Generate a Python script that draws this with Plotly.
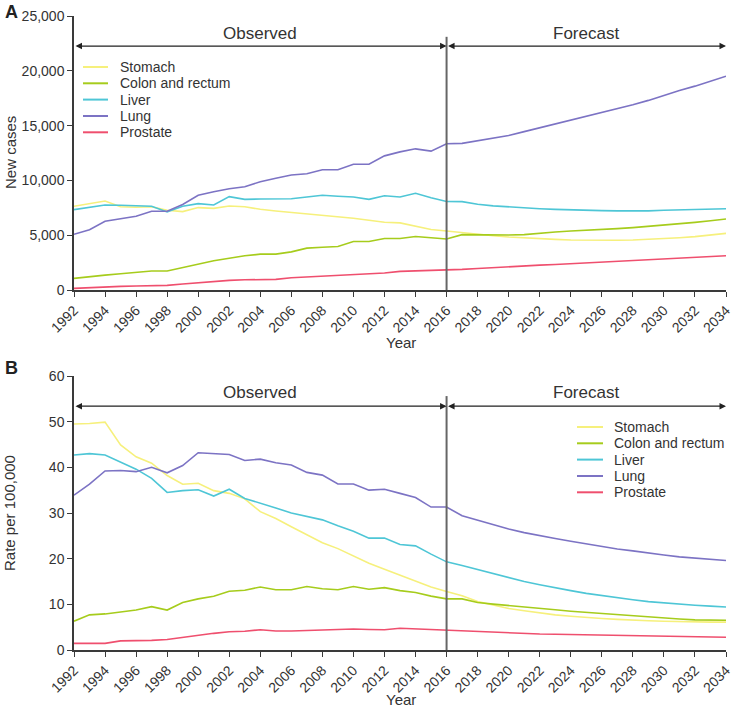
import plotly.graph_objects as go

years = list(range(1992, 2035))
names = ["Stomach", "Colon and rectum", "Liver", "Lung", "Prostate"]
colors = ["#f6f07c", "#a6cc1c", "#4ec6d6", "#7c73c4", "#ef4f6e"]

# Panel A: new cases
cases_stomach = [7640, 7880, 8120, 7600, 7550, 7600, 7270, 7150, 7520, 7450, 7670, 7600, 7360, 7210, 7090,
                 6940, 6790, 6730, 6550, 6360, 6180, 6120, 5820, 5520, 5380,
                 5220, 5080, 4950, 4840, 4750, 4680, 4620, 4560, 4540, 4530, 4540, 4560, 4610, 4680, 4770,
                 4870, 5000, 5170]
cases_colon = [1060, 1240, 1360, 1480, 1600, 1730, 1730, 2060, 2390, 2670, 2900, 3120, 3270, 3270, 3480,
               3820, 3900, 3970, 4420, 4420, 4700, 4700, 4880, 4760, 4660,
               5050, 5020, 5020, 5020, 5050, 5200, 5290, 5380, 5440, 5500, 5600, 5690, 5800, 5900, 6030,
               6170, 6320, 6480]
cases_liver = [7330, 7550, 7760, 7730, 7670, 7640, 7120, 7640, 7880, 7760, 8520, 8270, 8300, 8300, 8330,
               8480, 8640, 8550, 8480, 8270, 8600, 8480, 8820, 8420, 8080,
               8060, 7820, 7680, 7570, 7490, 7420, 7360, 7300, 7270, 7240, 7220, 7200, 7220, 7270, 7320,
               7360, 7390, 7420]
cases_lung = [5090, 5500, 6270, 6500, 6730, 7180, 7180, 7800, 8640, 8970, 9240, 9420, 9880, 10200, 10500,
              10600, 10970, 10970, 11480, 11480, 12240, 12600, 12880, 12670, 13350,
              13380, 13600, 13850, 14100, 14450, 14800, 15100, 15450, 15800, 16150, 16500, 16900, 17300,
              17760, 18200, 18600, 19050, 19500]
cases_prostate = [150, 220, 300, 330, 360, 390, 420, 550, 670, 780, 880, 930, 970, 970, 1120,
                  1200, 1270, 1330, 1390, 1470, 1550, 1700, 1730, 1760, 1790,
                  1880, 1960, 2050, 2130, 2200, 2270, 2330, 2400, 2470, 2540, 2610, 2680, 2750, 2820, 2880,
                  2950, 3040, 3130]

# Panel B: rate per 100,000
rate_stomach = [49.5, 49.6, 49.9, 44.9, 42.3, 40.9, 38.2, 36.3, 36.5, 34.9, 34.3, 33.1, 30.3, 28.8, 27.0,
                25.3, 23.5, 22.2, 20.6, 19.0, 17.7, 16.4, 15.1, 13.8, 12.8,
                11.9, 10.6, 9.8, 9.1, 8.6, 8.1, 7.7, 7.4, 7.1, 6.9, 6.7, 6.5, 6.4, 6.3, 6.2, 6.1, 6.1, 6.1]
rate_colon = [6.3, 7.7, 7.9, 8.25, 8.75, 9.5, 8.75, 10.4, 11.2, 11.75, 12.85, 13.1, 13.8, 13.2, 13.2,
              13.9, 13.4, 13.2, 13.9, 13.3, 13.65, 13.0, 12.6, 11.8, 11.2,
              11.2, 10.4, 10.05, 9.7, 9.4, 9.1, 8.8, 8.5, 8.25, 8.0, 7.7, 7.4, 7.2, 7.0, 6.8, 6.6, 6.55, 6.5]
rate_liver = [42.7, 43.0, 42.7, 41.2, 39.6, 37.6, 34.5, 34.9, 35.1, 33.7, 35.2, 33.2, 32.2, 31.1, 30.0,
              29.3, 28.5, 27.2, 26.0, 24.5, 24.5, 23.1, 22.8, 21.0, 19.3,
              18.5, 17.6, 16.7, 15.8, 15.0, 14.3, 13.6, 13.0, 12.4, 11.9, 11.4, 11.0, 10.6, 10.3, 10.0,
              9.8, 9.6, 9.4]
rate_lung = [33.9, 36.3, 39.2, 39.3, 39.05, 40.0, 38.8, 40.4, 43.2, 43.0, 42.8, 41.5, 41.8, 41.0, 40.5,
             38.9, 38.3, 36.35, 36.35, 35.0, 35.2, 34.3, 33.4, 31.3, 31.3,
             29.4, 28.4, 27.4, 26.5, 25.7, 25.0, 24.4, 23.8, 23.2, 22.6, 22.1, 21.7, 21.2, 20.8, 20.4,
             20.1, 19.8, 19.6]
rate_prostate = [1.46, 1.46, 1.46, 2.0, 2.0, 2.1, 2.3, 2.8, 3.2, 3.65, 4.0, 4.1, 4.45, 4.15, 4.15,
                 4.3, 4.4, 4.6, 4.6, 4.5, 4.45, 4.75, 4.6, 4.4, 4.25,
                 4.1, 4.0, 3.85, 3.7, 3.6, 3.5, 3.45, 3.4, 3.3, 3.25, 3.2, 3.1, 3.05, 3.0, 2.95, 2.9, 2.85, 2.8]

cases = [cases_stomach, cases_colon, cases_liver, cases_lung, cases_prostate]
rates = [rate_stomach, rate_colon, rate_liver, rate_lung, rate_prostate]

split_year = 2016
cases_ticks = [0, 5000, 10000, 15000, 20000, 25000]
rate_ticks = [0, 10, 20, 30, 40, 50, 60]

FONT = "Arial, Liberation Sans, sans-serif"
AX = "#3a3a3a"
TXT = "#333333"

# figure geometry (pixels)
W, H = 733, 710
ML, MR, MT, MB = 74, 7, 16, 60
PW, PH = W - ML - MR, H - MT - MB


def px(x):
    return (x - ML) / PW


def py(y):
    return 1 - (y - MT) / PH


fig = go.Figure()
for n, c, v in zip(names, colors, cases):
    fig.add_trace(go.Scatter(x=years, y=v, name=n, mode="lines", line=dict(color=c, width=1.6),
                             xaxis="x", yaxis="y", showlegend=False))
for n, c, v in zip(names, colors, rates):
    fig.add_trace(go.Scatter(x=years, y=v, name=n, mode="lines", line=dict(color=c, width=1.6),
                             xaxis="x2", yaxis="y2", showlegend=False))

xcommon = dict(range=[1992, 2034], tickmode="array", tickvals=list(range(1992, 2035, 2)),
               tickangle=-45, ticks="outside", ticklen=5, tickcolor=AX, showline=True,
               linecolor=AX, linewidth=1.5, showgrid=False, zeroline=False, automargin=False,
               ticklabeloverflow="allow", tickfont=dict(size=14, color=TXT))
ycommon = dict(ticks="outside", ticklen=5, tickcolor=AX, showline=True, linecolor=AX, linewidth=1.5,
               showgrid=False, zeroline=False, automargin=False, ticklabeloverflow="allow",
               tickfont=dict(size=14, color=TXT))

top_dom = [py(290), 1]
bot_dom = [0, py(376)]

fig.update_layout(
    width=W, height=H,
    margin=dict(l=ML, r=MR, t=MT, b=MB, autoexpand=False),
    paper_bgcolor="white", plot_bgcolor="white",
    font=dict(family=FONT, color=TXT),
    xaxis=dict(domain=[0, 1], anchor="y", **xcommon),
    yaxis=dict(domain=top_dom, anchor="x", range=[0, 25000], tickvals=cases_ticks,
               tickformat=",d", **ycommon),
    xaxis2=dict(domain=[0, 1], anchor="y2", **xcommon),
    yaxis2=dict(domain=bot_dom, anchor="x2", range=[0, 60], tickvals=rate_ticks, **ycommon),
    showlegend=False,
)

shapes = []
annotations = []
for yref, top, arrow_y, text_y in [("y", 23100, 22260, 23400), ("y2", 55.6, 53.4, 56.3)]:
    xref = "x" if yref == "y" else "x2"
    shapes.append(dict(type="line", xref=xref, yref=yref, x0=split_year, x1=split_year, y0=0, y1=top,
                       line=dict(color="#666", width=2)))
    for x0, x1 in [(1992, split_year), (split_year, 2034)]:
        annotations.append(dict(xref=xref, yref=yref, axref=xref, ayref=yref, x=x1, y=arrow_y,
                                ax=x0, ay=arrow_y, showarrow=True, arrowhead=2, arrowside="end+start",
                                arrowsize=1, arrowwidth=1.3, arrowcolor="#222", text=""))
    annotations.append(dict(xref=xref, yref=yref, x=(1992 + split_year) / 2, y=text_y, text="Observed",
                            showarrow=False, font=dict(size=17, color=TXT), yanchor="middle"))
    annotations.append(dict(xref=xref, yref=yref, x=(split_year + 2034) / 2, y=text_y, text="Forecast",
                            showarrow=False, font=dict(size=17, color=TXT), yanchor="middle"))

# custom legends (line sample + label)
for (lx0, lx1, tx, ys) in [(83, 108, 118, [67, 83.3, 99.6, 116, 132.3]),
                           (577, 603, 612, [427, 443.3, 459.6, 476, 492.3])]:
    for n, c, yy in zip(names, colors, ys):
        shapes.append(dict(type="line", xref="paper", yref="paper", x0=px(lx0), x1=px(lx1),
                           y0=py(yy), y1=py(yy), line=dict(color=c, width=2)))
        annotations.append(dict(xref="paper", yref="paper", x=px(tx), y=py(yy), text=n, showarrow=False,
                                xanchor="left", yanchor="middle", font=dict(size=14, color=TXT)))

# axis titles
annotations.append(dict(xref="paper", yref="paper", x=px(10), y=py(153), text="New cases", textangle=-90,
                        showarrow=False, xanchor="center", yanchor="middle", font=dict(size=15, color=TXT)))
annotations.append(dict(xref="paper", yref="paper", x=px(9), y=py(513), text="Rate per 100,000",
                        textangle=-90, showarrow=False, xanchor="center", yanchor="middle",
                        font=dict(size=15, color=TXT)))
annotations.append(dict(xref="paper", yref="paper", x=px(401), y=py(342), text="Year", showarrow=False,
                        xanchor="center", yanchor="middle", font=dict(size=15, color=TXT)))
annotations.append(dict(xref="paper", yref="paper", x=px(401), y=py(699), text="Year", showarrow=False,
                        xanchor="center", yanchor="middle", font=dict(size=15, color=TXT)))

# panel labels
annotations.append(dict(xref="paper", yref="paper", x=px(3), y=py(12), text="<b>A</b>", showarrow=False,
                        font=dict(size=18, color="#222"), xanchor="left", yanchor="middle"))
annotations.append(dict(xref="paper", yref="paper", x=px(3), y=py(368), text="<b>B</b>", showarrow=False,
                        font=dict(size=18, color="#222"), xanchor="left", yanchor="middle"))

fig.update_layout(shapes=shapes, annotations=annotations)
fig.write_html("out.html", config={"displayModeBar": False},
               post_script="document.body.style.margin='0px';document.body.style.overflow='hidden';")
